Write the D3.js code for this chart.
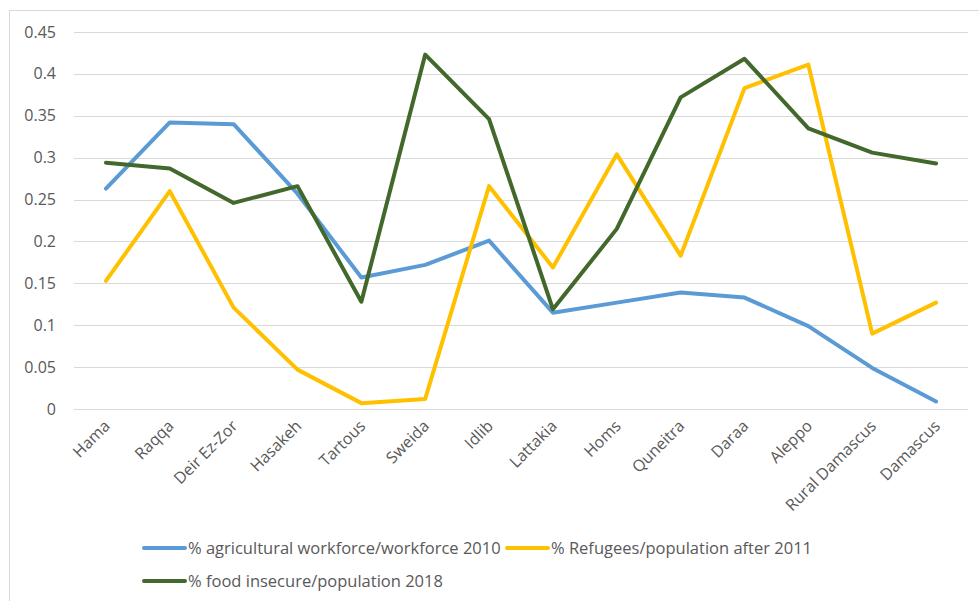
<!DOCTYPE html>
<html><head><meta charset="utf-8">
<script src="https://cdn.jsdelivr.net/npm/d3@7/dist/d3.min.js"></script>
<style>body{margin:0;background:#fff;}svg{display:block;font-family:"Open Sans","Liberation Sans",sans-serif;}</style>
</head><body><svg id="c" width="979" height="601"></svg>
<script>
const categories = ["Hama","Raqqa","Deir Ez-Zor","Hasakeh","Tartous","Sweida","Idlib","Lattakia","Homs","Quneitra","Daraa","Aleppo","Rural Damascus","Damascus"];
const agricultural = [0.263,0.342,0.340,0.257,0.157,0.172,0.201,0.115,0.127,0.139,0.133,0.099,0.049,0.009];
const refugees = [0.153,0.260,0.121,0.047,0.007,0.012,0.266,0.169,0.304,0.183,0.383,0.411,0.090,0.127];
const foodInsecure = [0.294,0.287,0.246,0.266,0.128,0.423,0.346,0.119,0.215,0.372,0.418,0.335,0.306,0.293];
const yTicks = [0,0.05,0.1,0.15,0.2,0.25,0.3,0.35,0.4,0.45];
const seriesNames = ["% agricultural workforce/workforce 2010","% Refugees/population after 2011","% food insecure/population 2018"];

const svg = d3.select("#c");
svg.append("rect").attr("x",9.5).attr("y",10.5).attr("width",980).attr("height",600)
  .attr("fill","none").attr("stroke","#d9d9d9");

const x = d3.scaleBand().domain(categories).range([74,968]);
const y = d3.scaleLinear().domain([0,0.45]).range([409,32]);

svg.append("g").selectAll("line").data(yTicks).join("line")
  .attr("x1",74).attr("x2",968).attr("y1",d=>Math.round(y(d))+0.5).attr("y2",d=>Math.round(y(d))+0.5)
  .attr("stroke","#d9d9d9").attr("stroke-width",1);

svg.append("g").selectAll("text").data(yTicks).join("text")
  .attr("x",56).attr("y",d=>y(d)).attr("dy","0.35em").attr("text-anchor","end")
  .attr("fill","#595959").attr("font-size",16).text(d=>String(d));

svg.append("g").selectAll("text").data(categories).join("text")
  .attr("transform",d=>`translate(${x(d)+x.bandwidth()/2+5},${427}) rotate(-45)`)
  .attr("text-anchor","end").attr("fill","#595959").attr("font-size",16).text(d=>d);

const colors = ["#5b9bd5","#ffc000","#43682b"];
const data = [agricultural, refugees, foodInsecure];
const line = d3.line().x((d,i)=>x(categories[i])+x.bandwidth()/2).y(d=>y(d));
svg.append("g").selectAll("path").data(data).join("path")
  .attr("d",line).attr("fill","none").attr("stroke",(d,i)=>colors[i])
  .attr("stroke-width",4).attr("stroke-linejoin","round").attr("stroke-linecap","round");

const legendPos = [[143,548],[506,548],[143,581]];
const lg = svg.append("g").selectAll("g").data(seriesNames).join("g")
  .attr("transform",(d,i)=>`translate(${legendPos[i][0]},${legendPos[i][1]})`);
lg.append("line").attr("x1",1).attr("x2",42).attr("stroke",(d,i)=>colors[i]).attr("stroke-width",4).attr("stroke-linecap","round");
lg.append("text").attr("x",45).attr("dy","0.35em").attr("fill","#595959").attr("font-size",16.5).text(d=>d);
</script></body></html>
